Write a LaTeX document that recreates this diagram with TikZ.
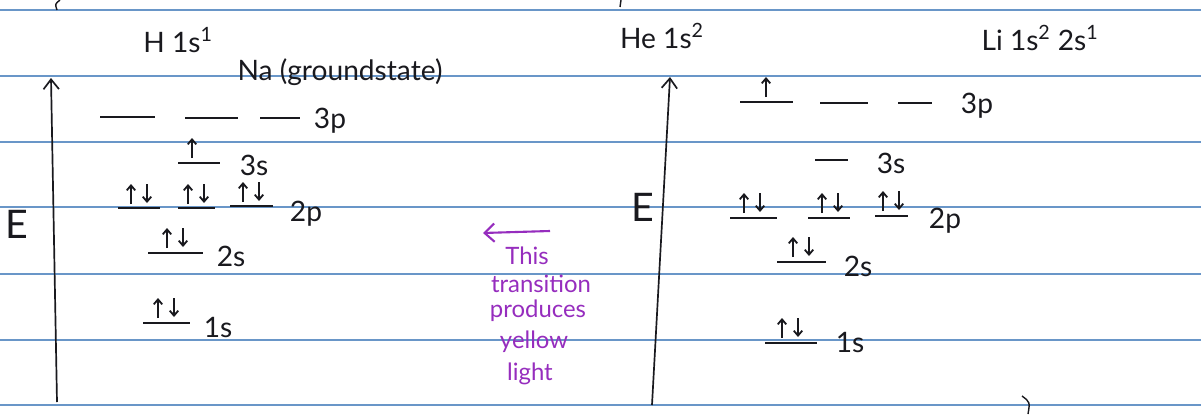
\documentclass[tikz,border=0pt]{standalone}
\usepackage{fontspec}
\setmainfont{Lato}
\usetikzlibrary{arrows.meta}
\definecolor{ruled}{RGB}{105,150,200}
\definecolor{ink}{RGB}{25,25,30}
\definecolor{pur}{RGB}{150,45,190}
\tikzset{
  rule/.style={ruled,line width=1.3pt},
  lev/.style={ink,line width=1.7pt},
  spin/.style={ink,line width=1.3pt,-{Straight Barb[length=3.5pt,width=6pt]}},
  lbl/.style={ink,font=\fontsize{20}{24}\selectfont,inner sep=0pt},
  big/.style={ink,font=\fontsize{28}{32}\selectfont,inner sep=0pt},
  note/.style={pur,font=\fontsize{17}{20}\selectfont,inner sep=0pt},
  axis/.style={ink,line width=1.2pt,-{Straight Barb[length=7pt,width=11pt]}},
}
\newcommand\myup[2]{\draw[spin] (#1,#2-3) -- (#1,#2-23);}
\newcommand\mydown[2]{\draw[spin] (#1,#2-23) -- (#1,#2-4);}
\newcommand\mypair[2]{\myup{#1-8}{#2}\mydown{#1+8}{#2}}
\newcommand\mylev[3]{\draw[lev] (#1,#3) -- (#2,#3);}
\begin{document}
\begin{tikzpicture}[x=0.025cm,y=-0.025cm]
\useasboundingbox (0,0) rectangle (1201,414);
\fill[white] (0,0) rectangle (1201,414);
% notebook rules
\foreach \yy in {10,76,142,207,274,340,405}
  \draw[rule] (0,\yy) -- (1201,\yy);
% partial marks at edges
\draw[ink,line width=1pt] (60,0) .. controls (55,4) .. (57,10);
\draw[ink,line width=1pt] (621,0) -- (620,7);
\draw[ink,line width=1pt] (1022,396) .. controls (1030,402) .. (1028,414);

% ---------- left: Na ----------
\node[lbl] (h1s) at (178,40) {H 1s\textsuperscript{1}};
\node[lbl] (na) at (340,72) {Na (groundstate)};
\coordinate (a1b) at (57,402);
\coordinate (a1t) at (51,78);
\draw[axis] (a1b) -- (a1t);
\node[big] (e1) at (17,224) {E};
% 3p
\mylev{100}{155}{117}
\mylev{185}{238}{118}
\mylev{260}{300}{118}
\node[lbl] (na3p) at (330,121) {3p};
% 3s
\mylev{178}{220}{163}
\myup{192}{161}
\node[lbl] (na3s) at (254,165) {3s};
% 2p
\mylev{118}{160}{208}
\mylev{178}{215}{208}
\mylev{230}{273}{206}
\mypair{139}{207}
\mypair{196}{207}
\mypair{251}{205}
\node[lbl] (na2p) at (306,214) {2p};
% 2s
\mylev{148}{203}{253}
\mypair{175}{251}
\node[lbl] (na2s) at (231,256) {2s};
% 1s
\mylev{143}{190}{323}
\mypair{166}{321}
\node[lbl] (na1s) at (218,328) {1s};

% ---------- middle note ----------
\coordinate (ts) at (550,231);
\coordinate (te) at (483,233);
\draw[pur,line width=1.5pt,-{Straight Barb[length=7pt,width=13pt]}] (ts) -- (te);
\node[note] (n1) at (527,256) {This};
\node[note] (n2) at (541,284) {transition};
\node[note] (n3) at (538,311) {produces};
\node[note] (n4) at (534,342) {yellow};
\node[note] (n5) at (530,374) {light};

% ---------- right: He / Li ----------
\node[lbl] (he) at (662,36) {He 1s\textsuperscript{2}};
\node[lbl] (li) at (1040,38) {Li 1s\textsuperscript{2} 2s\textsuperscript{1}};
\coordinate (a2b) at (652,405);
\coordinate (a2t) at (670,77);
\draw[axis] (a2b) -- (a2t);
\node[big] (e2) at (643,207) {E};
% 3p
\mylev{740}{793}{102}
\mylev{820}{868}{103}
\mylev{898}{932}{103}
\myup{766}{100}
\node[lbl] (li3p) at (977,106) {3p};
% 3s
\mylev{815}{848}{160}
\node[lbl] (li3s) at (891,163) {3s};
% 2p
\mylev{730}{777}{218}
\mylev{808}{850}{218}
\mylev{875}{908}{216}
\mypair{752}{216}
\mypair{830}{216}
\mypair{891}{214}
\node[lbl] (li2p) at (945,221) {2p};
% 2s
\mylev{777}{826}{262}
\mypair{801}{260}
\node[lbl] (li2s) at (858,266) {2s};
% 1s
\mylev{765}{817}{343}
\mypair{790}{341}
\node[lbl] (li1s) at (850,343) {1s};
\end{tikzpicture}
\end{document}
